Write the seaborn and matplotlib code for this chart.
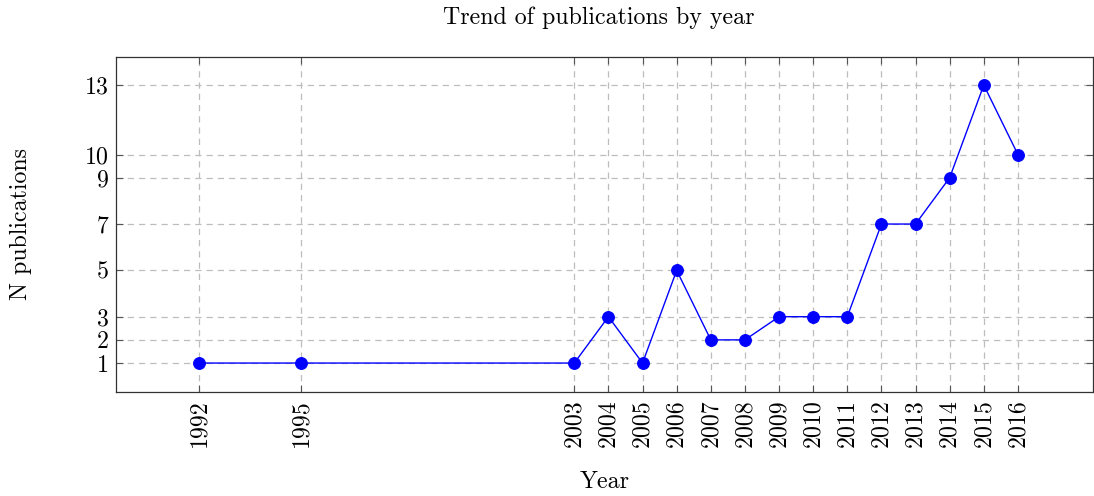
import matplotlib
matplotlib.use("Agg")
import matplotlib.pyplot as plt
import seaborn as sns
import pandas as pd

years = [1992, 1995, 2003, 2004, 2005, 2006, 2007, 2008, 2009, 2010, 2011, 2012, 2013, 2014, 2015, 2016]
counts = [1, 1, 1, 3, 1, 5, 2, 2, 3, 3, 3, 7, 7, 9, 13, 10]
ytick_vals = [1, 2, 3, 5, 7, 9, 10, 13]

sns.set_theme(style="white")
plt.rcParams['font.family'] = ['cmr10', 'DejaVu Serif']
plt.rcParams['axes.formatter.use_mathtext'] = True
plt.rcParams['mathtext.fontset'] = 'cm'
plt.rcParams['text.color'] = 'black'
plt.rcParams['axes.labelcolor'] = 'black'
plt.rcParams['xtick.color'] = 'black'
plt.rcParams['ytick.color'] = 'black'

FS = 17.2

df = pd.DataFrame({"Year": years, "N": counts})

fig = plt.figure(figsize=(10.94, 4.96), dpi=100)
ax = fig.add_axes([116/1094, (496-392)/496, (1093-116)/1094, (392-57)/496])

sns.lineplot(data=df, x="Year", y="N", ax=ax, color=(0, 0, 1), linewidth=1.0,
             marker="o", markersize=8.5, markeredgecolor=(0, 0, 1), markerfacecolor=(0, 0, 1))

ax.set_xlim(1989.57, 2018.2)
ax.set_ylim(-0.25, 14.21)
ax.set_xticks(years)
ax.set_xticklabels([str(y) for y in years], rotation=90, fontsize=FS, color='black')
ax.set_yticks(ytick_vals)
ax.set_yticklabels([str(v) for v in ytick_vals], fontsize=FS, color='black')

ax.grid(True, linestyle=(0, (5, 4)), color="#bdbdbd", linewidth=0.9)
ax.tick_params(axis='both', direction='in', length=5, width=0.8, color="#555555",
               top=True, right=True, bottom=True, left=True, pad=5)
for s in ax.spines.values():
    s.set_color("#333333")
    s.set_linewidth(0.9)

ax.set_xlabel("Year", fontsize=FS, labelpad=17, color='black')
ax.set_ylabel("N publications", fontsize=FS, labelpad=38, color='black')
ax.set_title("Trend of publications by year", fontsize=FS, pad=24, color='black', x=0.494)

fig.savefig("out.png", dpi=100)
